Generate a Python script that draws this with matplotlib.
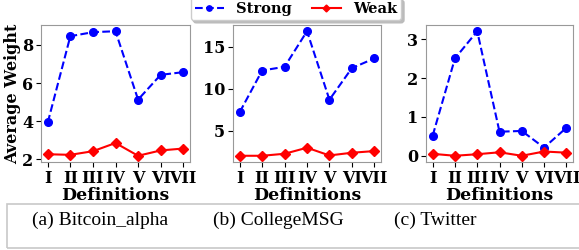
import matplotlib
matplotlib.use('Agg')
import matplotlib.pyplot as plt
from matplotlib.patches import Rectangle

definitions = ['I', 'II', 'III', 'IV', 'V', 'VI', 'VII']

# average weight per definition
bitcoin_strong = [3.93, 8.46, 8.67, 8.72, 5.13, 6.43, 6.57]
bitcoin_weak = [2.26, 2.23, 2.42, 2.85, 2.18, 2.46, 2.56]
college_strong = [7.2, 12.16, 12.6, 16.84, 8.68, 12.44, 13.6]
college_weak = [2.0, 2.0, 2.24, 2.96, 2.04, 2.36, 2.56]
twitter_strong = [0.52, 2.51, 3.21, 0.62, 0.64, 0.21, 0.72]
twitter_weak = [0.05, 0.0, 0.04, 0.09, 0.0, 0.11, 0.08]

captions = ['(a) Bitcoin_alpha', '(b) CollegeMSG', '(c) Twitter']

plt.rcParams['font.family'] = 'DejaVu Serif'
plt.rcParams['font.weight'] = 'bold'

W, H = 579, 250
fig = plt.figure(figsize=(W / 100, H / 100), dpi=100)

# axes boxes in pixels (left, right)
boxes = [(41, 190), (233, 381), (426, 573)]
top, bottom = 25, 162
panels = [(bitcoin_strong, bitcoin_weak), (college_strong, college_weak),
          (twitter_strong, twitter_weak)]

axes = []
for (l, r), (strong, weak) in zip(boxes, panels):
    ax = fig.add_axes([l / W, 1 - bottom / H, (r - l) / W, (bottom - top) / H])
    x = range(len(definitions))
    ax.plot(x, strong, '--', color='blue', marker='o', markersize=5.5,
            linewidth=1.5, label='Strong')
    ax.plot(x, weak, '-', color='red', marker='D', markersize=5,
            linewidth=1.5, label='Weak')
    ax.set_xticks(list(x))
    ax.set_xticklabels(definitions, fontsize=11.5, fontweight='bold')
    ax.tick_params(axis='y', labelsize=11.5, pad=2)
    ax.tick_params(axis='x', pad=2)
    for lab in ax.get_yticklabels():
        lab.set_fontweight('bold')
    ax.set_xlabel('Definitions', fontsize=12.5, fontweight='bold', labelpad=0)
    for s in ax.spines.values():
        s.set_color('#999999')
    axes.append(ax)

axes[0].set_ylabel('Average Weight', fontsize=11.5, fontweight='bold', labelpad=1)
axes[1].set_yticks([5, 10, 15])
axes[2].set_yticks([0, 1, 2, 3])

handles, labels = axes[0].get_legend_handles_labels()
fig.legend(handles, labels, loc='upper center', bbox_to_anchor=(0.511, 1.04),
           ncol=2, prop={'family': 'DejaVu Serif', 'weight': 'bold', 'size': 10.5},
           fancybox=True, shadow={'color': '#bbbbbb', 'alpha': 1},
           markerscale=0.7, handlelength=2.0, edgecolor='#cccccc',
           columnspacing=1.4, borderpad=0.3, handletextpad=0.8)

# caption box
fig.patches.append(Rectangle((7 / W, 2 / H), 1.0, 44 / H, transform=fig.transFigure,
                             fill=False, edgecolor='#c8c8c8', linewidth=1.2))
cap_x = [100, 278, 435]
for cx, cap in zip(cap_x, captions):
    fig.text(cx / W, 1 - 220 / H, cap, ha='center', va='center',
             fontsize=14, fontweight='normal', family='Liberation Serif')

fig.savefig('out.png', dpi=100)
